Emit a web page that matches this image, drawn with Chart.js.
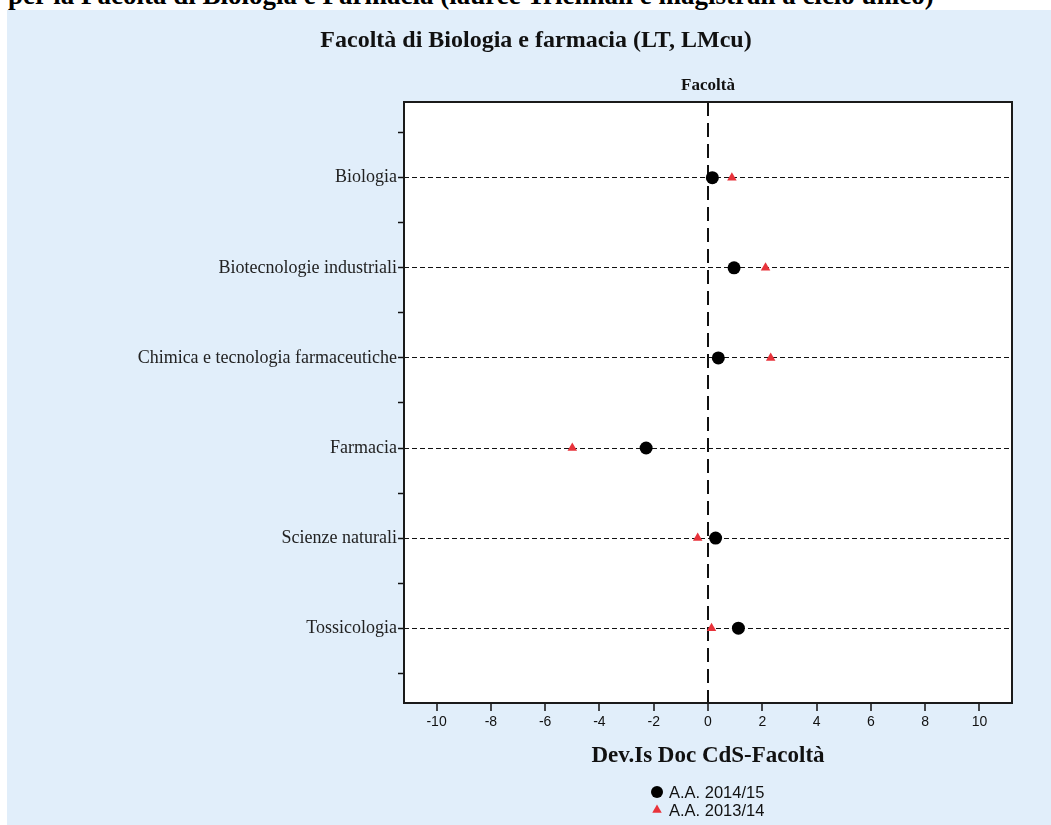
<!DOCTYPE html>
<html>
<head>
<meta charset="utf-8">
<script src="https://cdn.jsdelivr.net/npm/chart.js@4/dist/chart.umd.min.js"></script>
<style>
    html, body { margin: 0; padding: 0; background: #fff; }
    #page { position: relative; width: 1051px; height: 825px; overflow: hidden; }
    #heading {
        position: absolute; left: 8px; top: -18px; white-space: nowrap;
        font: bold 27px/27px "Liberation Serif", serif; color: #000;
    }
    #panel { position: absolute; left: 7px; top: 10px; right: 0; bottom: 0; background: #e1eefa; }
    #dev-canvas { position: absolute; left: 0; top: 0; }
</style>
</head>
<body>
<div id="page">
    <div id="heading">per la Facoltà di Biologia e Farmacia (lauree Triennali e magistrali a ciclo unico)</div>
    <div id="panel"></div>
    <canvas id="dev-canvas" width="1051" height="825"></canvas>
</div>
<script>
(function () {
    'use strict';

    var categories = [
        'Biologia',
        'Biotecnologie industriali',
        'Chimica e tecnologia farmaceutiche',
        'Farmacia',
        'Scienze naturali',
        'Tossicologia'
    ];
    var seriesNames = ['A.A. 2014/15', 'A.A. 2013/14'];
    var aa201415 = [0.16, 0.96, 0.38, -2.28, 0.28, 1.12];
    var aa201314 = [0.88, 2.12, 2.31, -5.0, -0.38, 0.13];
    var xTicks = [-10, -8, -6, -4, -2, 0, 2, 4, 6, 8, 10];

    var chartTitle = 'Facoltà di Biologia e farmacia (LT, LMcu)';
    var panelTitle = 'Facoltà';
    var xTitle = 'Dev.Is Doc CdS-Facoltà';

    var serif = '"Liberation Serif", "Times New Roman", serif';
    var sans = '"Liberation Sans", Arial, sans-serif';
    var red = '#e8333b';

    function toPoints(values) {
        return values.map(function (v, i) {
            return { x: v, y: i };
        });
    }

    function marker(ctx, style, r, x, y) {
        ctx.beginPath();
        if (style === 'circle') {
            ctx.arc(x, y, r, 0, Math.PI * 2);
        } else {
            ctx.moveTo(x, y - r);
            ctx.lineTo(x + r * 0.866, y + r / 2);
            ctx.lineTo(x - r * 0.866, y + r / 2);
            ctx.closePath();
        }
        ctx.fill();
    }

    // white plot area + box around it
    var plotFrame = {
        id: 'plotFrame',
        beforeDraw: function (chart) {
            var a = chart.chartArea, ctx = chart.ctx;
            ctx.save();
            ctx.fillStyle = '#fff';
            ctx.fillRect(a.left, a.top, a.right - a.left, a.bottom - a.top);
            ctx.restore();
        },
        afterDraw: function (chart) {
            var a = chart.chartArea, ctx = chart.ctx;
            ctx.save();
            ctx.strokeStyle = '#1a1a1a';
            ctx.lineWidth = 2;
            ctx.strokeRect(a.left, a.top, a.right - a.left, a.bottom - a.top);
            ctx.restore();
        }
    };

    // titles and the stacked legend
    var labelsPlugin = {
        id: 'labelsPlugin',
        afterDraw: function (chart) {
            var ctx = chart.ctx, a = chart.chartArea;
            ctx.save();
            ctx.fillStyle = '#111';
            ctx.textAlign = 'center';
            ctx.textBaseline = 'middle';
            ctx.font = 'bold 24px ' + serif;
            ctx.fillText(chartTitle, 536, 41);
            ctx.font = 'bold 17px ' + serif;
            ctx.fillText(panelTitle, (a.left + a.right) / 2, 86);

            var lx = 657, ly = 792;
            ctx.textAlign = 'left';
            ctx.font = '16.5px ' + sans;
            chart.data.datasets.forEach(function (ds, i) {
                var y = ly + i * 18;
                ctx.fillStyle = ds.backgroundColor;
                marker(ctx, ds.pointStyle, ds.pointStyle === 'circle' ? 6 : 5.5, lx, y);
                ctx.fillStyle = '#111';
                ctx.fillText(ds.label, lx + 12, y + 1);
            });
            ctx.restore();
        }
    };

    new Chart(document.getElementById('dev-canvas'), {
        type: 'scatter',
        data: {
            datasets: [
                {
                    label: seriesNames[0],
                    data: toPoints(aa201415),
                    pointStyle: 'circle',
                    pointRadius: 6.5,
                    pointHoverRadius: 6.5,
                    backgroundColor: '#000',
                    borderColor: '#000',
                    borderWidth: 0,
                    order: 1
                },
                {
                    label: seriesNames[1],
                    data: toPoints(aa201314),
                    pointStyle: 'triangle',
                    pointRadius: 5.5,
                    pointHoverRadius: 5.5,
                    backgroundColor: red,
                    borderColor: red,
                    borderWidth: 0,
                    order: 2
                }
            ]
        },
        options: {
            responsive: false,
            animation: false,
            devicePixelRatio: 1,
            layout: { padding: { top: 102, right: 39, bottom: 50, left: 0 } },
            plugins: {
                legend: { display: false },
                tooltip: { enabled: false }
            },
            scales: {
                x: {
                    type: 'linear',
                    min: -11.2,
                    max: 11.2,
                    afterBuildTicks: function (scale) {
                        scale.ticks = xTicks.map(function (v) { return { value: v }; });
                    },
                    afterFit: function (scale) { scale.height = 72; },
                    border: { display: false, dash: [14, 7] },
                    grid: {
                        color: function (ctx) {
                            return ctx.tick && ctx.tick.value === 0 ? '#111' : 'rgba(0,0,0,0)';
                        },
                        lineWidth: 2,
                        tickColor: '#111',
                        tickWidth: 1.5,
                        tickLength: 8
                    },
                    ticks: {
                        color: '#111',
                        padding: 3,
                        font: { family: sans, size: 14 }
                    },
                    title: {
                        display: true,
                        text: xTitle,
                        color: '#111',
                        font: { family: serif, size: 23, weight: 'bold', lineHeight: 1.2 },
                        padding: { top: 0, bottom: 5 }
                    }
                },
                y: {
                    type: 'linear',
                    reverse: true,
                    min: -0.84,
                    max: 5.83,
                    afterBuildTicks: function (scale) {
                        var t = [];
                        for (var i = -1; i <= 11; i++) t.push({ value: i / 2 });
                        scale.ticks = t;
                    },
                    afterFit: function (scale) { scale.width = 404; },
                    border: { display: false, dash: [5, 3] },
                    grid: {
                        color: function (ctx) {
                            return ctx.tick && Number.isInteger(ctx.tick.value) ? '#111' : 'rgba(0,0,0,0)';
                        },
                        lineWidth: 1,
                        tickColor: '#111',
                        tickWidth: 1.5,
                        tickLength: 6
                    },
                    ticks: {
                        color: '#222',
                        padding: 1,
                        font: { family: serif, size: 18 },
                        callback: function (v) {
                            return Number.isInteger(v) ? categories[v] : '';
                        }
                    }
                }
            }
        },
        plugins: [plotFrame, labelsPlugin]
    });
})();
</script>
</body>
</html>
